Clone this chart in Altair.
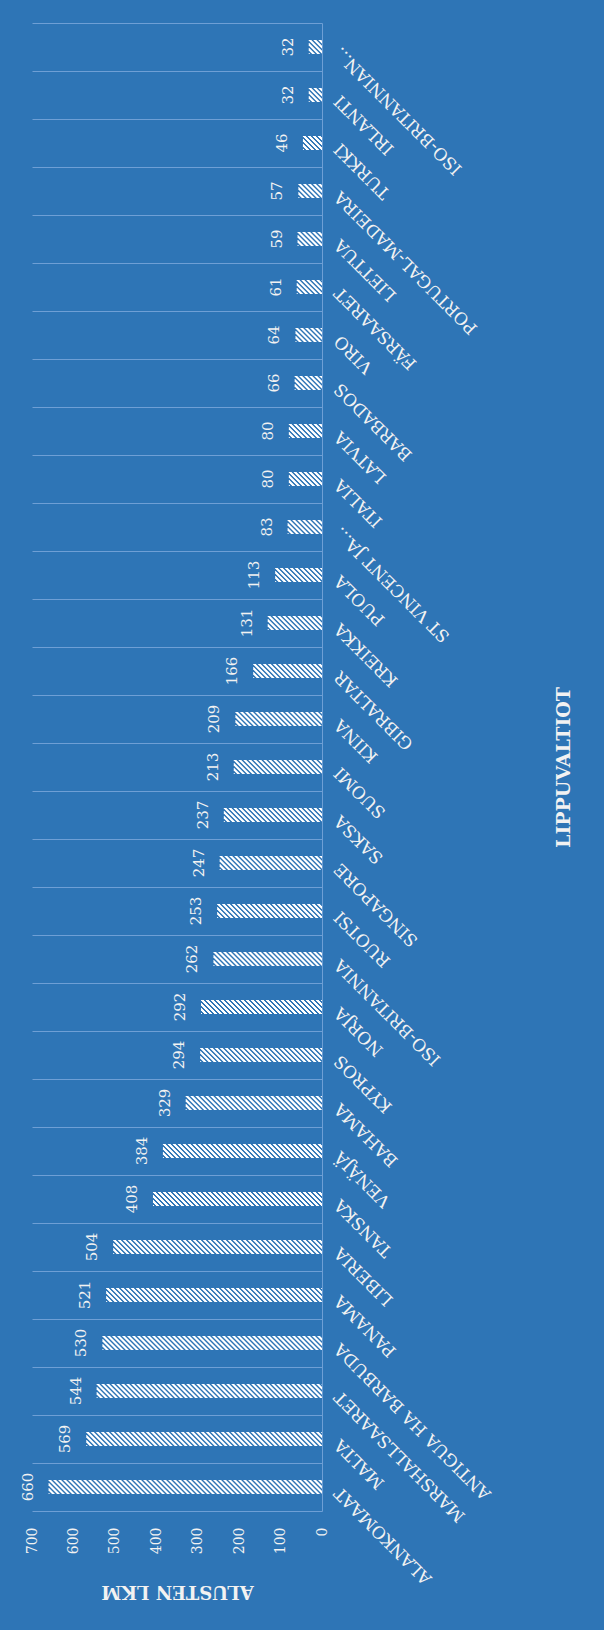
import altair as alt
import pandas as pd

# Flag states (first = bottom of the picture) and number of vessels
countries = [
    "ALANKOMAAT", "MALTA", "MARSHALLSAARET", "ANTIGUA HA BARBUDA", "PANAMA",
    "LIBERIA", "TANSKA", "VENÄJÄ", "BAHAMA", "KYPROS", "NORJA",
    "ISO-BRITANNIA", "RUOTSI", "SINGAPORE", "SAKSA", "SUOMI", "KIINA",
    "GIBRALTAR", "KREIKKA", "PUOLA", "ST VINCENT JA...", "ITALIA", "LATVIA",
    "BARBADOS", "VIRO", "FÄRSAARET", "LIETTUA", "PORTUGAL-MADEIRA", "TURKKI",
    "IRLANTI", "ISO-BRITANNIAN...",
]
vessels = [660, 569, 544, 530, 521, 504, 408, 384, 329, 294, 292, 262, 253,
           247, 237, 213, 209, 166, 131, 113, 83, 80, 80, 66, 64, 61, 59, 57,
           46, 32, 32]
value_ticks = [0, 100, 200, 300, 400, 500, 600, 700]

BG = "#2E75B6"
GRID = "#6E9FD5"
TXT = "#F2F2F2"
FONT = "DejaVu Serif"

PLOT_H = 1488
STEP = PLOT_H / len(countries)  # band height of one category

df = pd.DataFrame({"country": countries, "value": vessels})
order = list(reversed(countries))

y_enc = alt.Y(
    "country:N",
    sort=order,
    scale=alt.Scale(paddingInner=0, paddingOuter=0),
    axis=alt.Axis(
        orient="right",
        title="LIPPUVALTIOT",
        grid=True,
        gridColor=GRID,
        gridWidth=1,
        tickBand="extent",
        ticks=False,
        tickSize=0,
        labels=False,
        domain=True,
        domainColor=GRID,
        domainWidth=1,
        titleAngle=270,
        titleX=241,
        titleY=744,
        titleAlign="center",
        titleBaseline="middle",
        titleFont=FONT,
        titleFontSize=19,
        titleFontWeight="bold",
        titleColor=TXT,
    ),
)

x_enc = alt.X(
    "value:Q",
    scale=alt.Scale(domain=[0, 700], reverse=True, nice=False),
    axis=alt.Axis(
        values=value_ticks,
        title="ALUSTEN LKM",
        grid=False,
        domain=False,
        ticks=False,
        tickSize=0,
        labelAngle=270,
        labelPadding=16,
        labelFont=FONT,
        labelFontSize=14,
        labelColor=TXT,
        titleAngle=180,
        titleX=145,
        titleY=79,
        titleAlign="center",
        titleBaseline="middle",
        titleFont=FONT,
        titleFontSize=18,
        titleFontWeight="bold",
        titleColor=TXT,
    ),
)

y_plain = alt.Y("country:N", sort=order)

# Hatched bars: 14 one-pixel dashed rows, each row's dash pattern shifted by
# one pixel, which gives diagonal white stripes.
ROWS = 14
PERIOD = 5
hatch_layers = []
for k in range(ROWS):
    row = alt.Chart(df).mark_rule(
        strokeWidth=1,
        strokeDash=[3, 2],
        strokeDashOffset=(PERIOD - (k % PERIOD)) % PERIOD,
        color="white",
        strokeCap="butt",
    ).encode(
        y=y_enc if k == 0 else y_plain,
        x=x_enc if k == 0 else alt.X("value:Q"),
        x2=alt.datum(0),
        yOffset=alt.value(STEP / 2 + k - (ROWS - 1) / 2),
    )
    hatch_layers.append(row)

value_labels = alt.Chart(df).mark_text(
    angle=270, align="center", baseline="alphabetic", dy=-16,
    font=FONT, fontSize=15, color=TXT,
).encode(y=y_plain, x=alt.X("value:Q"), text="value:Q")

category_labels = alt.Chart(df).mark_text(
    angle=225, align="right", baseline="middle", dx=-13, dy=9,
    font=FONT, fontSize=17, color=TXT,
).encode(y=y_plain, x=alt.datum(0), text="country:N")

chart = alt.layer(*hatch_layers, value_labels, category_labels).properties(
    width=290,
    height=PLOT_H,
    autosize="none",
    padding={"left": 32, "top": 23, "right": 282, "bottom": 119},
    background=BG,
).configure_view(stroke=None)

chart.save("out.html", embed_options={"renderer": "svg", "actions": False})
